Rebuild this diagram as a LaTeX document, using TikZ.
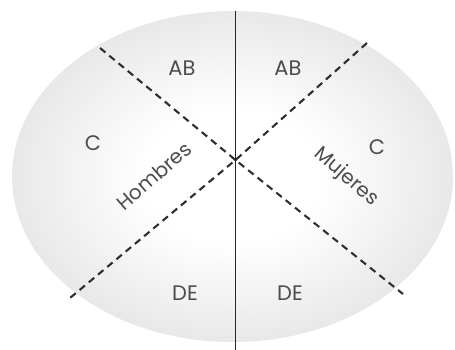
\documentclass[tikz,border=0pt]{standalone}
\usepackage{fontspec}
\setmainfont{Poppins}
\pgfdeclareradialshading{ellshade}{\pgfpoint{0bp}{0bp}}{color(0bp)=(white); color(10bp)=(white); color(50bp)=(black!24); color(75bp)=(black!24)}
\begin{document}
\begin{tikzpicture}[x=1pt,y=-1pt,
  lbl/.style={font=\fontsize{21}{23}\selectfont, text=black!70, inner sep=0pt},
  sex/.style={font=\fontsize{20}{22}\selectfont, text=black!70, inner sep=0pt},
  dashline/.style={draw=black!82, line width=2.1pt, dash pattern=on 7pt off 5pt},
  axis/.style={draw=black!85, line width=1.2pt}]
\useasboundingbox (0,0) rectangle (455,350);
\fill[white] (0,0) rectangle (455,350);
\path[shading=ellshade] (232.5,176.5) ellipse [x radius=220.5, y radius=165.5];
\coordinate (ctr) at (235.5,160);
\coordinate (tl) at (100,48);
\coordinate (br) at (403,294);
\coordinate (tr) at (367,43);
\coordinate (bl) at (70,298);
\coordinate (top) at (235.5,11);
\coordinate (bot) at (235.5,350);
\draw[dashline] (tl) -- (ctr) -- (br);
\draw[dashline] (tr) -- (ctr) -- (bl);
\draw[axis] (top) -- (bot);
\fill[black!85] (ctr) circle (1.6);
\node[lbl] (abl) at (182,68) {AB};
\node[lbl] (abr) at (288,68) {AB};
\node[lbl] (cl) at (93,143) {C};
\node[lbl] (cr) at (377,147) {C};
\node[lbl] (del) at (185,293) {DE};
\node[lbl] (der) at (290,293) {DE};
\node[sex, rotate=41] (hom) at (154,176) {Hombres};
\node[sex, rotate=-41] (muj) at (346,177) {Mujeres};
\end{tikzpicture}
\end{document}
